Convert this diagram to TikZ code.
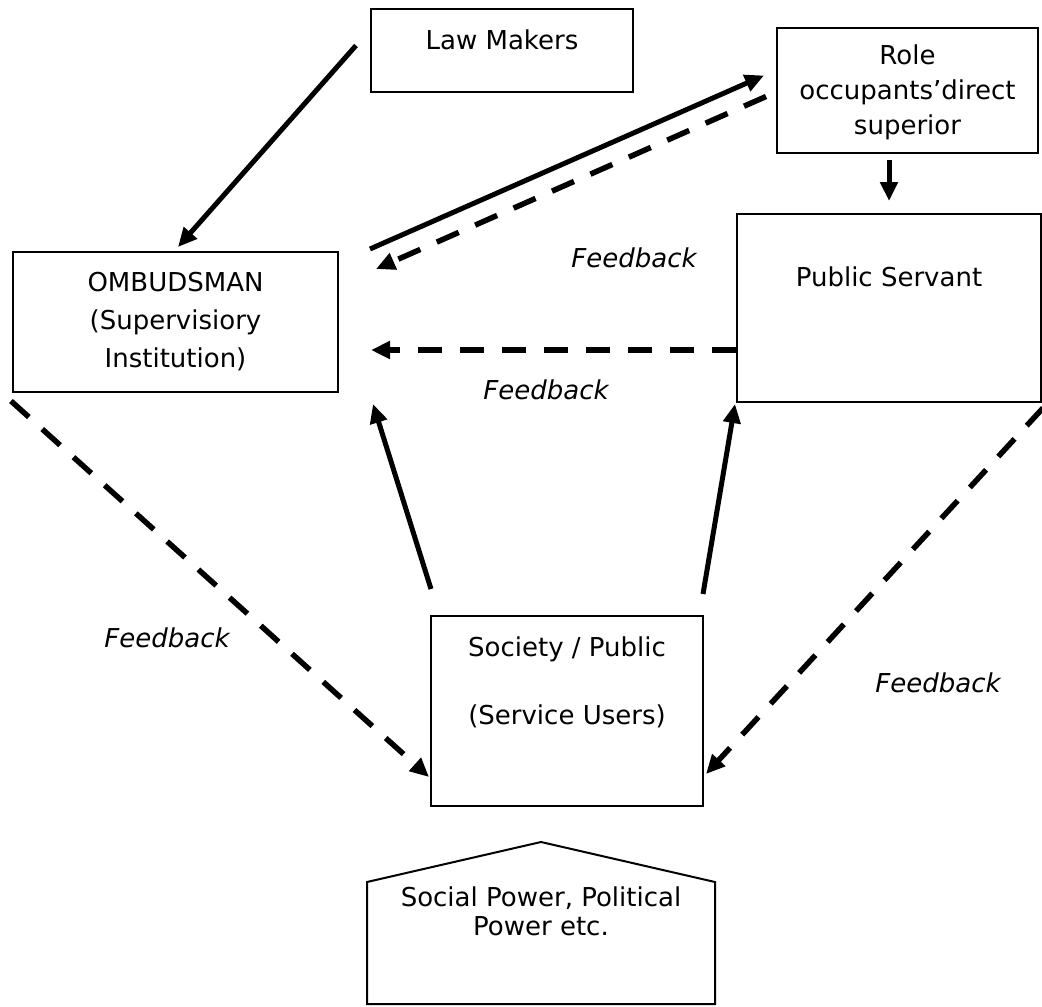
\documentclass[tikz,border=0pt]{standalone}
\usepackage{fontspec}
\setmainfont{DejaVu Sans}
\usepackage{tikz}
\usetikzlibrary{arrows.meta}
\usetikzlibrary{positioning}
\def\fsize{26}
\tikzset{
  >={Triangle[length=19pt,width=17pt]},
  box/.style={draw,line width=2pt,inner sep=0},
  txt/.style={inner sep=0,align=center,font=\fontsize{\fsize}{35}\selectfont},
  feedback/.style={inner sep=0,font=\fontsize{\fsize}{30}\selectfont\itshape},
  connect/.style={->,line width=5pt},
  connect dashed/.style={connect,line width=5.5pt,dash pattern=on 24pt off 18pt}
}

\begin{document}
\begin{tikzpicture}[x=1pt,y=-1pt]
  \useasboundingbox (0,0) rectangle (1042,1007);

  % boxes
  \node[box, minimum width=262pt, minimum height=83pt] (law) at (502,50.5) {};
  \node[txt, below=21.2pt of law.north] (law txt) {Law Makers};

  \node[box, minimum width=261pt, minimum height=125pt] (role) at (907.5,90.5) {};
  \node[txt, below=17.2pt of role.north] (role txt) {Role\\occupants’direct\\superior};

  \node[box, minimum width=304pt, minimum height=188pt] (pub) at (889,308) {};
  \node[txt, below=53.2pt of pub.north] (pub txt) {Public Servant};

  \node[box, minimum width=325pt, minimum height=140pt] (omb) at (175.5,322) {};
  \node[txt, font=\fontsize{\fsize}{38}\selectfont, below=21pt of omb.north] (omb txt)
    {OMBUDSMAN\\(Supervisiory\\Institution)};

  \node[box, minimum width=272pt, minimum height=190pt] (soc) at (567,711) {};
  \node[txt, font=\fontsize{\fsize}{68}\selectfont, below=21.2pt of soc.north] (soc txt)
    {Society / Public\\(Service Users)};

  \coordinate (roof) at (541,842);
  \draw[box] (367,1004) -- (367,882) -- (roof) -- (715,882) -- (715,1004) -- cycle;
  \node[txt, font=\fontsize{\fsize}{29.5}\selectfont, below=44.2pt of roof] (power)
    {Social Power, Political\\Power etc.};

  % feedback labels
  \node[feedback] (fb1) at (634,258) {Feedback};
  \node[feedback] (fb2) at (546,390) {Feedback};
  \node[feedback] (fb3) at (167,638) {Feedback};
  \node[feedback] (fb4) at (938,683) {Feedback};

  % connectors
  \draw[connect] ([xshift=-14pt,yshift=5pt]law.west) -- ([xshift=2.5pt,yshift=4pt]omb.north);
  \draw[connect] ([xshift=31pt,yshift=2pt]omb.north east) -- ([xshift=-12pt,yshift=15pt]role.west);
  \draw[connect dashed] ([xshift=-10pt,yshift=-6pt]role.west) -- ([xshift=37pt,yshift=-18pt]omb.north east);
  \coordinate (role foot) at (role.south -| pub.north);
  \draw[connect] ([yshift=-6pt]role foot) -- ([yshift=12pt]pub.north);
  \draw[connect dashed] ([yshift=-42pt]pub.west) -- ([xshift=32pt,yshift=-28pt]omb.east);
  \draw[connect] ([xshift=1pt,yshift=26pt]soc.north west) -- ([xshift=34pt,yshift=-11pt]omb.south east);
  \draw[connect] ([xshift=-1pt,yshift=21pt]soc.north east) -- ([xshift=-1pt,yshift=-1pt]pub.south west);
  \draw[connect dashed] ([xshift=-1pt,yshift=-8pt]omb.south west) -- ([xshift=-1pt,yshift=30pt]soc.south west);
  \draw[connect dashed] ([xshift=1pt,yshift=-5pt]pub.south east) -- ([xshift=2pt,yshift=33pt]soc.south east);
\end{tikzpicture}
\end{document}
